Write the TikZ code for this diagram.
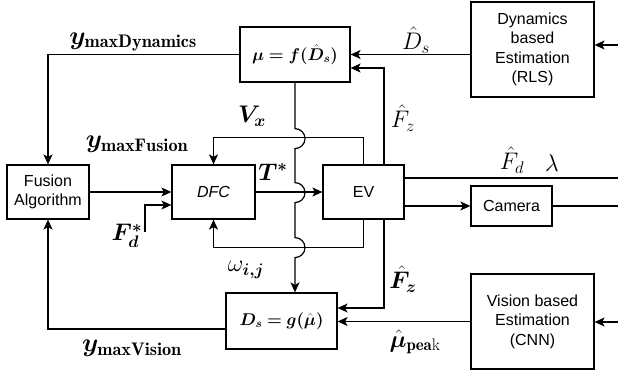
\RequirePackage{fix-cm}
\documentclass[tikz,border=0pt]{standalone}
\usepackage{amsmath,amssymb,bm}
\usepackage{fontspec}
\newfontfamily\boxfont{Liberation Sans}
\usepackage{tikz}
\usetikzlibrary{arrows.meta,positioning,calc}

\begin{document}
\begin{tikzpicture}[x=1pt, y=1pt, line width=1.2pt,
    >={Stealth[length=10pt, width=9pt, inset=2.5pt]},
    block/.style={rectangle, draw, line width=1.2pt, align=center, inner sep=0pt,
                  font=\boxfont\fontsize{16}{19.5}\selectfont},
    lbl/.style={inner sep=0pt, font=\fontsize{24}{28}\selectfont},
    ylbl/.style={inner sep=0pt, font=\fontsize{26}{30}\selectfont}]

    \useasboundingbox (0,0) rectangle (618,-377);

    % Blocks
    \node[block, minimum width=110, minimum height=55,
          font=\fontsize{17}{20}\selectfont] (mu) at (295,-54.5) {$\boldsymbol{\mu = f(\hat{D}_s)}$};
    \node[block, minimum width=123, minimum height=95] (rls) at (532.5,-49.5) {Dynamics\\based\\Estimation\\(RLS)};
    \node[block, minimum width=82, minimum height=54] (fusion) at (48,-192) {Fusion\\Algorithm};
    \node[block, minimum width=83, minimum height=54,
          font=\boxfont\itshape\fontsize{16}{19.5}\selectfont] (dfc) at (213.5,-192) {DFC};
    \node[block, minimum width=81, minimum height=54] (ev) at (363.5,-192) {EV};
    \node[block, minimum width=81, minimum height=40] (cam) at (511.5,-206) {Camera};
    \node[block, minimum width=123, minimum height=95] (vis) at (532.5,-321.5) {Vision based\\Estimation\\(CNN)};
    \node[block, minimum width=111, minimum height=56,
          font=\fontsize{17}{20}\selectfont] (ds) at (281.5,-321) {$\boldsymbol{D_s = g(\hat{\mu})}$};

    % Free ends
    \coordinate (rlsin) at (618,-45);
    \coordinate (visin) at (618,-322);
    \coordinate (fdin) at (145,-232);
    \coordinate (fdout) at (618,-178);

    % Connections
    \draw[->] (mu.west) -| (fusion.north);
    \draw[->] (rls.west |- mu.east) -- (mu.east);
    \draw[->] (rlsin) -- (rlsin -| rls.east);
    \draw[->] ([xshift=20.5pt]ev.north) |- ([yshift=-13.5pt]mu.east);
    \draw[->] (ev.north) -- ++(0,27) -| (dfc.north);
    \draw[->] (fusion.east) -- (dfc.west);
    \draw[->] (fdin) |- ([yshift=-13pt]dfc.west);
    \draw[->] (dfc.east) -- (ev.west);
    \draw[->] (ev.south) -- ++(0,-28) -| (dfc.south);
    \draw[->] (mu.south) -- ++(0,-46) arc[start angle=90, end angle=-90, radius=10]
              -- ++(0,-34) arc[start angle=90, end angle=-90, radius=10]
              -- ++(0,-35) arc[start angle=90, end angle=-90, radius=10]
              -- ([xshift=13.5pt]ds.north);
    \draw[->] ([xshift=20.5pt]ev.south) |- ([yshift=13pt]ds.east);
    \draw[->] (vis.west) -- (vis.west -| ds.east);
    \draw[->] (visin) -- (visin -| vis.east);
    \draw[->] ([yshift=-8pt]ds.west) -| (fusion.south);
    \draw (ev.east |- fdout) -- (fdout);
    \draw[->] (ev.east |- cam.west) -- (cam.west);
    \draw (cam.east) -- ++(66,0);

    % Labels
    \node[ylbl] (ydyn) at (133,-42) {$\boldsymbol{y}_{\mathbf{maxDynamics}}$};
    \node[lbl] (dshat) at (416,-40) {$\hat{D}_s$};
    \node[lbl] (vx) at (252,-116) {$\boldsymbol{V_x}$};
    \node[ylbl] (yfus) at (137,-144) {$\boldsymbol{y}_{\mathbf{maxFusion}}$};
    \node[lbl] (tstar) at (273,-172) {$\boldsymbol{T^*}$};
    \node[lbl] (fztop) at (403,-118) {$\hat{F}_z$};
    \node[lbl] (fdhat) at (512,-160) {$\hat{F}_d$};
    \node[lbl] (lam) at (552,-163) {$\lambda$};
    \node[lbl] (fdstar) at (127,-236) {$\boldsymbol{F_d^*}$};
    \node[lbl] (omega) at (246,-270) {$\omega_{\boldsymbol{i,j}}$};
    \node[lbl] (fzbot) at (403,-279) {$\boldsymbol{\hat{F}_z}$};
    \node[lbl] (mupeak) at (415,-342) {$\boldsymbol{\hat{\mu}}_{\mathbf{pea}\mathrm{k}}$};
    \node[ylbl] (yvis) at (132,-348) {$\boldsymbol{y}_{\mathbf{maxVision}}$};
\end{tikzpicture}
\end{document}
